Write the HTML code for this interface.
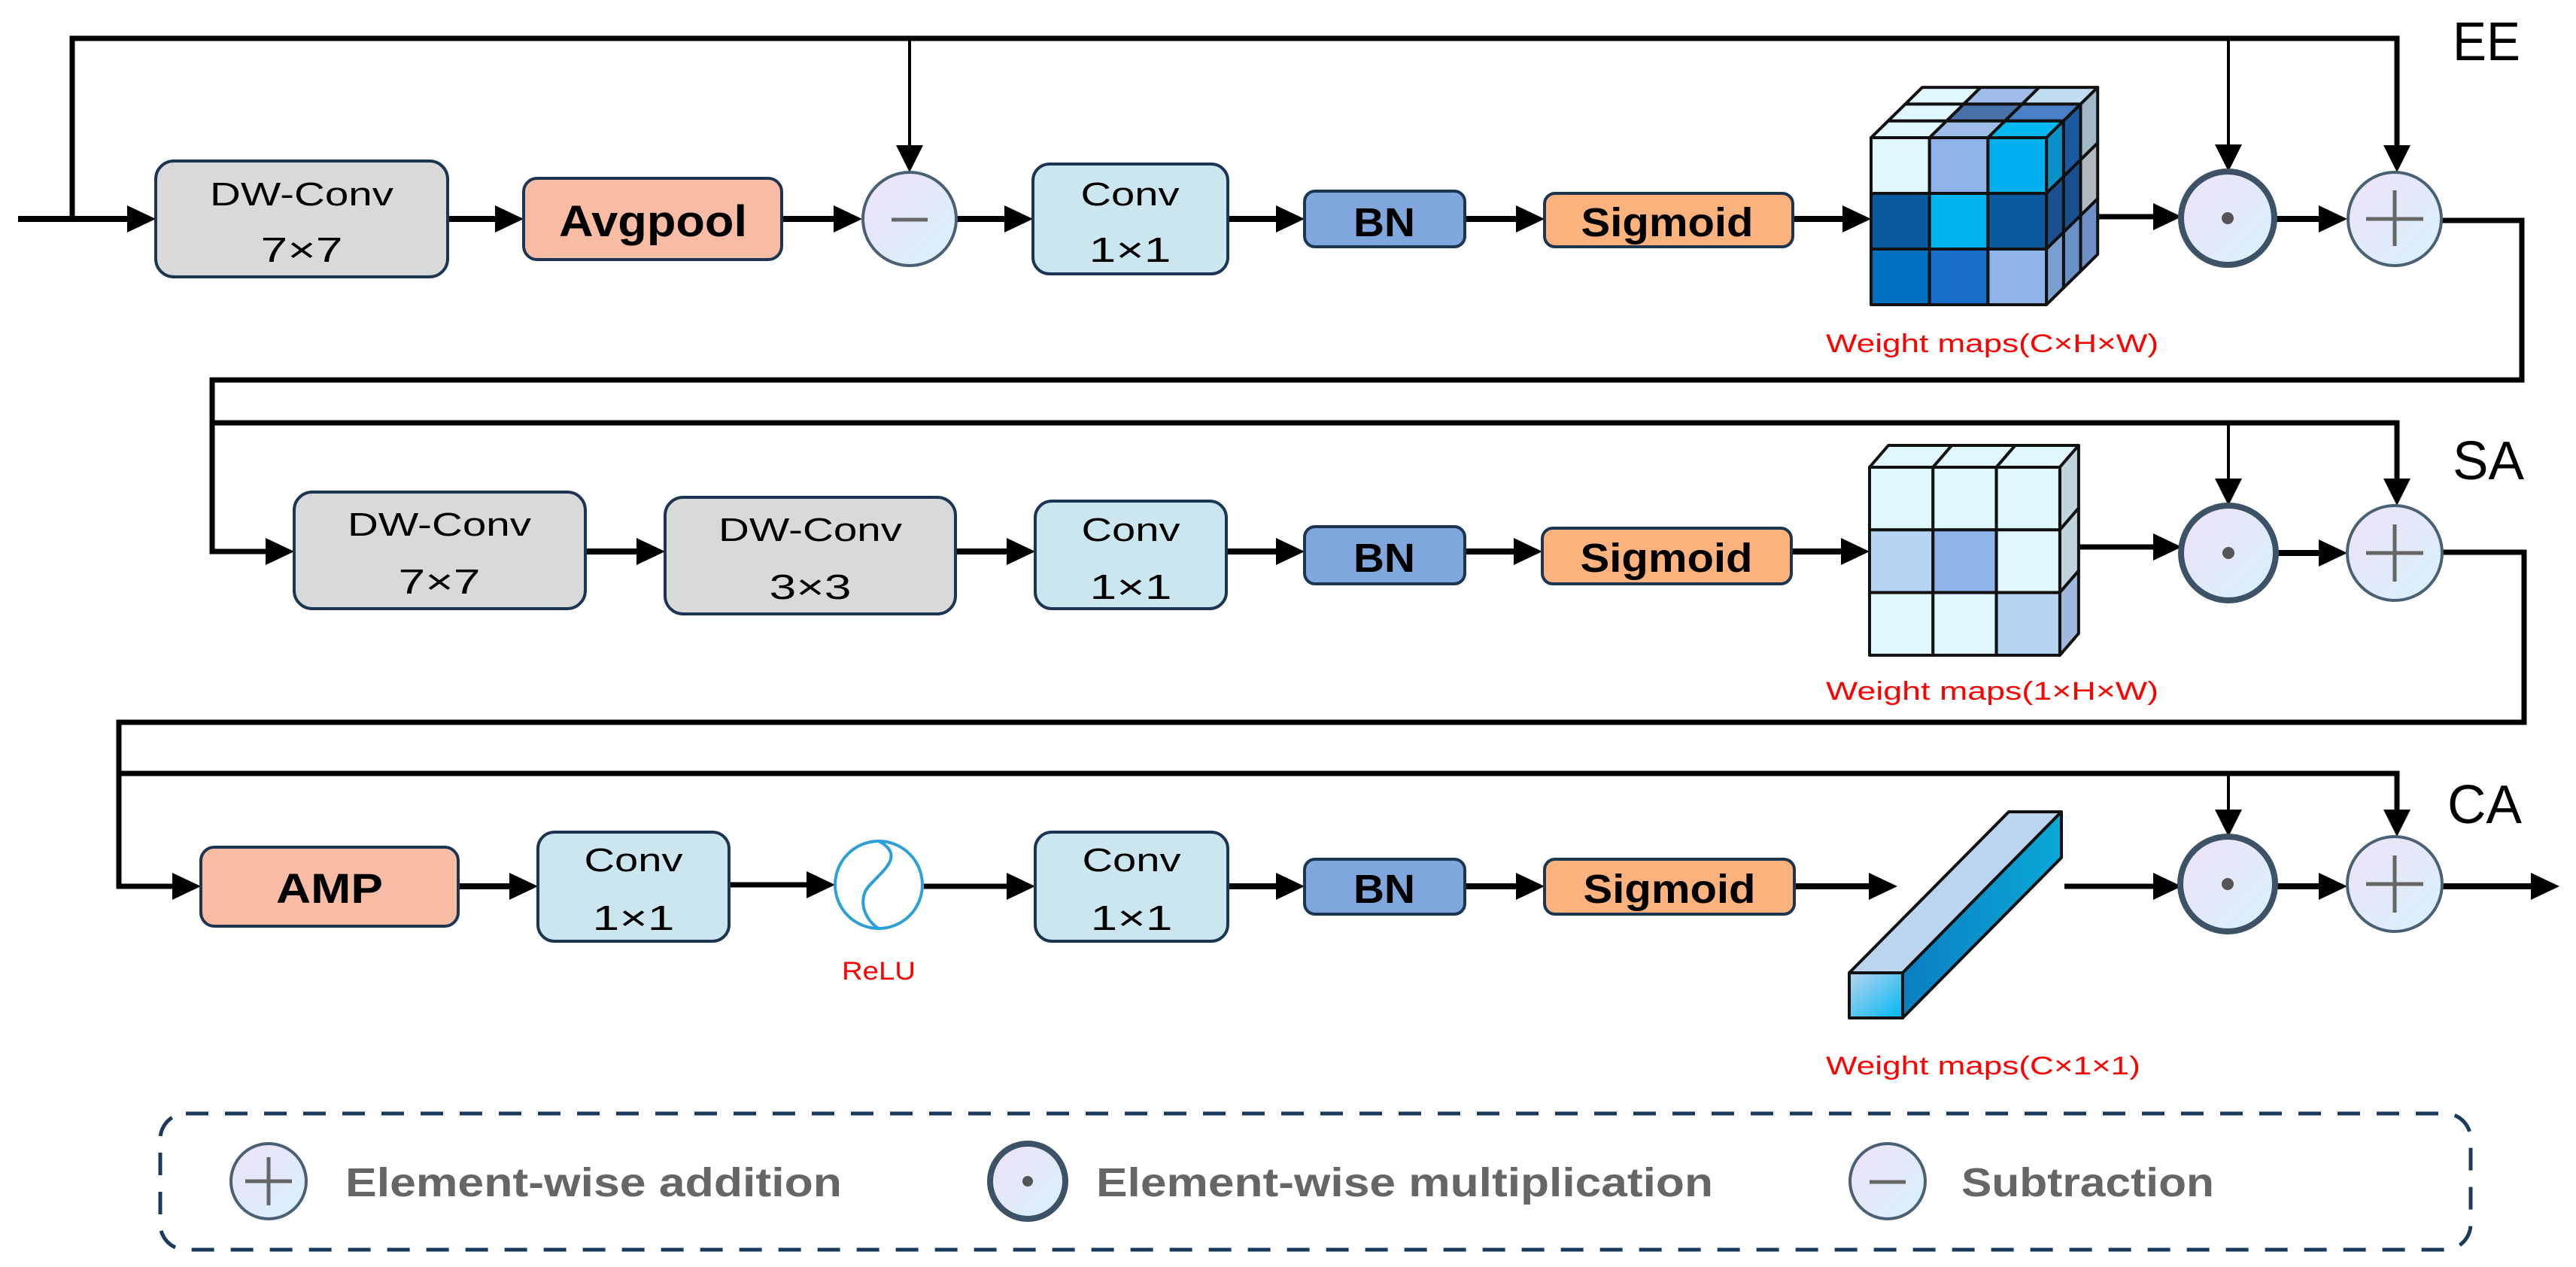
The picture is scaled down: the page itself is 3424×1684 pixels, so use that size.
<!DOCTYPE html>
<html><head><meta charset="utf-8"><style>
html,body{margin:0;padding:0;background:#fff}
svg{display:block}
text{font-family:"Liberation Sans",sans-serif}
</style></head><body>
<svg id="s" width="3424" height="1684" viewBox="0 0 3424 1684" xmlns="http://www.w3.org/2000/svg">
<defs>
<linearGradient id="cg" x1="0" y1="0" x2="1" y2="1"><stop offset="0" stop-color="#efe3f8"/><stop offset="1" stop-color="#d6f0fc"/></linearGradient>
<linearGradient id="bar" x1="0" y1="0" x2="1" y2="1"><stop offset="0" stop-color="#b8d4f0"/><stop offset="1" stop-color="#00b8f0"/></linearGradient>
<linearGradient id="barR" x1="0" y1="0" x2="1" y2="0"><stop offset="0" stop-color="#0a7fc0"/><stop offset="1" stop-color="#0aa8d8"/></linearGradient>
</defs>
<g fill="none" stroke="#000">
<!-- Row1 wiring -->
<polyline points="96,291 96,51 3186,51 3186,195" stroke-width="7"/>
<line x1="1209" y1="51" x2="1209" y2="195" stroke-width="4"/>
<line x1="2962" y1="51" x2="2962" y2="195" stroke-width="4"/>
<line x1="24" y1="291" x2="175" y2="291" stroke-width="8"/>
<line x1="595" y1="291" x2="665" y2="291" stroke-width="8"/>
<line x1="1039" y1="291" x2="1115" y2="291" stroke-width="8"/>
<line x1="1272" y1="291" x2="1342" y2="291" stroke-width="8"/>
<line x1="1632" y1="291" x2="1703" y2="291" stroke-width="8"/>
<line x1="1947" y1="291" x2="2022" y2="291" stroke-width="8"/>
<line x1="2383" y1="291" x2="2456" y2="291" stroke-width="8"/>
<line x1="2742" y1="288" x2="2870" y2="288" stroke-width="7"/>
<line x1="3022" y1="291" x2="3090" y2="291" stroke-width="8"/>
<polyline points="3246,293 3352,293 3352,505 282,505 282,733 360,733" stroke-width="7"/>
<!-- Row2 wiring -->
<polyline points="282,562 3186,562 3186,637" stroke-width="7"/>
<line x1="2962" y1="562" x2="2962" y2="637" stroke-width="4"/>
<line x1="778" y1="733" x2="853" y2="733" stroke-width="8"/>
<line x1="1270" y1="733" x2="1345" y2="733" stroke-width="8"/>
<line x1="1630" y1="733" x2="1703" y2="733" stroke-width="8"/>
<line x1="1947" y1="733" x2="2019" y2="733" stroke-width="8"/>
<line x1="2381" y1="733" x2="2454" y2="733" stroke-width="8"/>
<line x1="2763" y1="727" x2="2870" y2="727" stroke-width="7"/>
<line x1="3022" y1="735" x2="3090" y2="735" stroke-width="8"/>
<polyline points="3246,734 3355,734 3355,960 158,960 158,1178 236,1178" stroke-width="7"/>
<!-- Row3 wiring -->
<polyline points="158,1028 3186,1028 3186,1080" stroke-width="7"/>
<line x1="2962" y1="1028" x2="2962" y2="1080" stroke-width="4"/>
<line x1="609" y1="1178" x2="684" y2="1178" stroke-width="8"/>
<line x1="969" y1="1176" x2="1077" y2="1176" stroke-width="7"/>
<line x1="1228" y1="1178" x2="1345" y2="1178" stroke-width="7"/>
<line x1="1632" y1="1178" x2="1703" y2="1178" stroke-width="8"/>
<line x1="1947" y1="1178" x2="2022" y2="1178" stroke-width="8"/>
<line x1="2385" y1="1178" x2="2490" y2="1178" stroke-width="8"/>
<line x1="2744" y1="1178" x2="2870" y2="1178" stroke-width="7"/>
<line x1="3022" y1="1178" x2="3090" y2="1178" stroke-width="8"/>
<line x1="3246" y1="1178" x2="3368" y2="1178" stroke-width="8"/>
</g>
<g fill="#000" id="arrows"></g>

<!-- Boxes -->
<g stroke="#1b3552" stroke-width="4">
<rect x="207" y="214" width="388" height="154" rx="24" fill="#d9d9d9"/>
<rect x="696" y="237" width="343" height="108" rx="18" fill="#f8bca4"/>
<rect x="1373" y="218" width="259" height="146" rx="22" fill="#cce6f0"/>
<rect x="1734" y="254" width="213" height="74" rx="14" fill="#7fa7dc"/>
<rect x="2053" y="257" width="330" height="71" rx="14" fill="#fbb27c"/>

<rect x="391" y="654" width="387" height="155" rx="24" fill="#d9d9d9"/>
<rect x="884" y="661" width="386" height="155" rx="24" fill="#d9d9d9"/>
<rect x="1376" y="666" width="254" height="143" rx="22" fill="#cce6f0"/>
<rect x="1734" y="700" width="213" height="76" rx="14" fill="#7fa7dc"/>
<rect x="2050" y="702" width="331" height="74" rx="14" fill="#fbb27c"/>

<rect x="267" y="1126" width="342" height="105" rx="18" fill="#f8bca4"/>
<rect x="715" y="1106" width="254" height="145" rx="22" fill="#cce6f0"/>
<rect x="1376" y="1106" width="256" height="145" rx="22" fill="#cce6f0"/>
<rect x="1734" y="1142" width="213" height="73" rx="14" fill="#7fa7dc"/>
<rect x="2053" y="1142" width="332" height="73" rx="14" fill="#fbb27c"/>
</g>

<!-- Box text -->
<g fill="#000" text-anchor="middle">
<text x="401" y="273" font-size="44" textLength="244" lengthAdjust="spacingAndGlyphs">DW-Conv</text>
<text x="401" y="348" font-size="46" textLength="109" lengthAdjust="spacingAndGlyphs">7×7</text>
<text x="868" y="314" font-size="58" font-weight="bold" textLength="250" lengthAdjust="spacingAndGlyphs">Avgpool</text>
<text x="1502" y="273" font-size="44" textLength="131" lengthAdjust="spacingAndGlyphs">Conv</text>
<text x="1502" y="348" font-size="46" textLength="109" lengthAdjust="spacingAndGlyphs">1×1</text>
<text x="1840" y="314" font-size="54" font-weight="bold" textLength="82" lengthAdjust="spacingAndGlyphs">BN</text>
<text x="2216" y="314" font-size="54" font-weight="bold" textLength="229" lengthAdjust="spacingAndGlyphs">Sigmoid</text>

<text x="584" y="712" font-size="44" textLength="244" lengthAdjust="spacingAndGlyphs">DW-Conv</text>
<text x="584" y="789" font-size="46" textLength="109" lengthAdjust="spacingAndGlyphs">7×7</text>
<text x="1077" y="719" font-size="44" textLength="244" lengthAdjust="spacingAndGlyphs">DW-Conv</text>
<text x="1077" y="796" font-size="46" textLength="109" lengthAdjust="spacingAndGlyphs">3×3</text>
<text x="1503" y="719" font-size="44" textLength="131" lengthAdjust="spacingAndGlyphs">Conv</text>
<text x="1503" y="796" font-size="46" textLength="109" lengthAdjust="spacingAndGlyphs">1×1</text>
<text x="1840" y="760" font-size="54" font-weight="bold" textLength="82" lengthAdjust="spacingAndGlyphs">BN</text>
<text x="2215" y="760" font-size="54" font-weight="bold" textLength="229" lengthAdjust="spacingAndGlyphs">Sigmoid</text>

<text x="438" y="1200" font-size="56" font-weight="bold" textLength="142" lengthAdjust="spacingAndGlyphs">AMP</text>
<text x="842" y="1158" font-size="44" textLength="131" lengthAdjust="spacingAndGlyphs">Conv</text>
<text x="842" y="1236" font-size="46" textLength="109" lengthAdjust="spacingAndGlyphs">1×1</text>
<text x="1504" y="1158" font-size="44" textLength="131" lengthAdjust="spacingAndGlyphs">Conv</text>
<text x="1504" y="1236" font-size="46" textLength="109" lengthAdjust="spacingAndGlyphs">1×1</text>
<text x="1840" y="1200" font-size="54" font-weight="bold" textLength="82" lengthAdjust="spacingAndGlyphs">BN</text>
<text x="2219" y="1200" font-size="54" font-weight="bold" textLength="229" lengthAdjust="spacingAndGlyphs">Sigmoid</text>
</g>

<!-- Section labels -->
<g fill="#000" font-size="72">
<text x="3260" y="80" textLength="90" lengthAdjust="spacingAndGlyphs">EE</text>
<text x="3260" y="637" textLength="95" lengthAdjust="spacingAndGlyphs">SA</text>
<text x="3253" y="1094" textLength="99" lengthAdjust="spacingAndGlyphs">CA</text>
</g>

<!-- red labels -->
<g fill="#ff0000" font-size="34" text-anchor="middle">
<text x="2648" y="468" textLength="442" lengthAdjust="spacingAndGlyphs">Weight maps(C×H×W)</text>
<text x="2648" y="930" textLength="442" lengthAdjust="spacingAndGlyphs">Weight maps(1×H×W)</text>
<text x="2636" y="1428" textLength="418" lengthAdjust="spacingAndGlyphs">Weight maps(C×1×1)</text>
<text x="1168" y="1302" textLength="98" lengthAdjust="spacingAndGlyphs">ReLU</text>
</g>

<!-- cubes -->
<g id="cubes" stroke="#111" stroke-width="4" stroke-linejoin="round"></g>

<!-- CA bar -->
<g stroke="#111" stroke-width="4" stroke-linejoin="round">
<polygon points="2458,1293 2529,1293 2740,1079 2670,1079" fill="#bcd4ee"/>
<polygon points="2529,1293 2740,1079 2740,1140 2529,1353" fill="url(#barR)"/>
<rect x="2458" y="1293" width="71" height="60" fill="url(#bar)"/>
</g>

<!-- operation circles -->
<g fill="url(#cg)">
<circle cx="1209" cy="291" r="62" stroke="#4a6075" stroke-width="4"/>
<circle cx="2961" cy="290" r="62" stroke="#3d5266" stroke-width="8"/>
<circle cx="3183" cy="291" r="62" stroke="#4a6075" stroke-width="4"/>
<circle cx="2962" cy="735" r="63" stroke="#3d5266" stroke-width="8"/>
<circle cx="3183" cy="735" r="63" stroke="#4a6075" stroke-width="4"/>
<circle cx="2961" cy="1175" r="63" stroke="#3d5266" stroke-width="8"/>
<circle cx="3183" cy="1175" r="63" stroke="#4a6075" stroke-width="4"/>
<circle cx="357" cy="1570" r="50" stroke="#4a6075" stroke-width="4"/>
<circle cx="1366" cy="1570" r="50" stroke="#3d5266" stroke-width="8"/>
<circle cx="2509" cy="1570" r="50" stroke="#4a6075" stroke-width="4"/>
</g>
<g stroke="#666" stroke-width="5" fill="#555">
<line x1="1185" y1="292" x2="1233" y2="292"/>
<circle cx="2961" cy="290" r="8" stroke="none"/>
<line x1="3145" y1="291" x2="3221" y2="291"/><line x1="3183" y1="253" x2="3183" y2="327"/>
<circle cx="2962" cy="735" r="8" stroke="none"/>
<line x1="3145" y1="735" x2="3221" y2="735"/><line x1="3183" y1="697" x2="3183" y2="773"/>
<circle cx="2961" cy="1175" r="8" stroke="none"/>
<line x1="3145" y1="1175" x2="3221" y2="1175"/><line x1="3183" y1="1137" x2="3183" y2="1213"/>
<line x1="326" y1="1570" x2="388" y2="1570"/><line x1="357" y1="1538" x2="357" y2="1602"/>
<circle cx="1366" cy="1570" r="7" stroke="none"/>
<line x1="2485" y1="1571" x2="2533" y2="1571"/>
</g>

<!-- ReLU -->
<circle cx="1168" cy="1176" r="58" fill="#fff" stroke="#2a9fd8" stroke-width="4"/>
<path d="M1168,1118 C1210,1140 1160,1165 1150,1185 C1140,1210 1160,1230 1168,1234" fill="none" stroke="#2a9fd8" stroke-width="4"/>

<!-- Legend -->
<rect x="213" y="1480" width="3071" height="181" rx="34" fill="none" stroke="#1b3a5c" stroke-width="5" stroke-dasharray="30 22"/>
<g fill="#666" font-size="54" font-weight="bold">
<text x="459" y="1590" textLength="660" lengthAdjust="spacingAndGlyphs">Element-wise addition</text>
<text x="1457" y="1590" textLength="820" lengthAdjust="spacingAndGlyphs">Element-wise multiplication</text>
<text x="2607" y="1590" textLength="336" lengthAdjust="spacingAndGlyphs">Subtraction</text>
</g>
</svg>
<script>
(function(){
var NS="http://www.w3.org/2000/svg";
var A=document.getElementById("arrows");
function poly(g,pts,fill){var p=document.createElementNS(NS,"polygon");p.setAttribute("points",pts.map(function(a){return a[0].toFixed(1)+","+a[1].toFixed(1)}).join(" "));if(fill)p.setAttribute("fill",fill);g.appendChild(p);}
function ha(x,y){poly(A,[[x-38,y-18],[x,y],[x-38,y+18]]);}
function va(x,y){poly(A,[[x-18,y-36],[x,y],[x+18,y-36]]);}
[[207,291],[696,291],[1146,291],[1373,291],[1734,291],[2053,291],[2487,291],[2900,288],[3120,291],
 [391,733],[884,733],[1376,733],[1734,733],[2050,733],[2485,733],[2900,727],[3120,735],
 [267,1178],[715,1178],[1110,1176],[1376,1178],[1734,1178],[2053,1178],[2522,1178],[2900,1178],[3120,1178],[3402,1178]
].forEach(function(a){ha(a[0],a[1]);});
[[1209,229],[2962,228],[3186,229],[2962,672],[3186,672],[2962,1112],[3186,1112]].forEach(function(a){va(a[0],a[1]);});
var C=document.getElementById("cubes");
function cube(X0,Y0,w,h,L,dx,dy,front,top,right){
 var X1=X0+3*w,r,c,d;
 for(d=L-1;d>=0;d--)for(c=0;c<3;c++)poly(C,[[X0+c*w+d*dx,Y0+d*dy],[X0+(c+1)*w+d*dx,Y0+d*dy],[X0+(c+1)*w+(d+1)*dx,Y0+(d+1)*dy],[X0+c*w+(d+1)*dx,Y0+(d+1)*dy]],top[d][c]);
 for(d=L-1;d>=0;d--)for(r=0;r<3;r++)poly(C,[[X1+d*dx,Y0+r*h+d*dy],[X1+(d+1)*dx,Y0+r*h+(d+1)*dy],[X1+(d+1)*dx,Y0+(r+1)*h+(d+1)*dy],[X1+d*dx,Y0+(r+1)*h+d*dy]],right[d][r]);
 for(r=0;r<3;r++)for(c=0;c<3;c++)poly(C,[[X0+c*w,Y0+r*h],[X0+(c+1)*w,Y0+r*h],[X0+(c+1)*w,Y0+(r+1)*h],[X0+c*w,Y0+(r+1)*h]],front[r][c]);
}
cube(2487,183,77.7,74,3,22.7,-22.3,
 [["#e0f7ff","#8fb4ea","#00b0f0"],["#0a5aa0","#00b4f0","#0a5aa0"],["#0070c0","#1a6fcc","#8fb4ea"]],
 [["#e0f7ff","#a0bce8","#00b8f0"],["#e0f7ff","#4a70a8","#4a80c8"],["#e0f7ff","#a0bce8","#c0dcf0"]],
 [["#0a90c8","#1a4f90","#7a9ed0"],["#1a5aa0","#1a5090","#6a90c8"],["#a0b8c8","#b0b8c0","#7090c8"]]);
cube(2485,621,84.3,83.3,1,25,-29,
 [["#e0f7ff","#e0f7ff","#e0f7ff"],["#b8d4f4","#8fb4ea","#e0f7ff"],["#e0f7ff","#e0f7ff","#b8d4f4"]],
 [["#e0f7ff","#e0f7ff","#e0f7ff"]],
 [["#c0d4dc","#c0d4dc","#a0b8dc"]]);
})();
</script>
</body></html>
